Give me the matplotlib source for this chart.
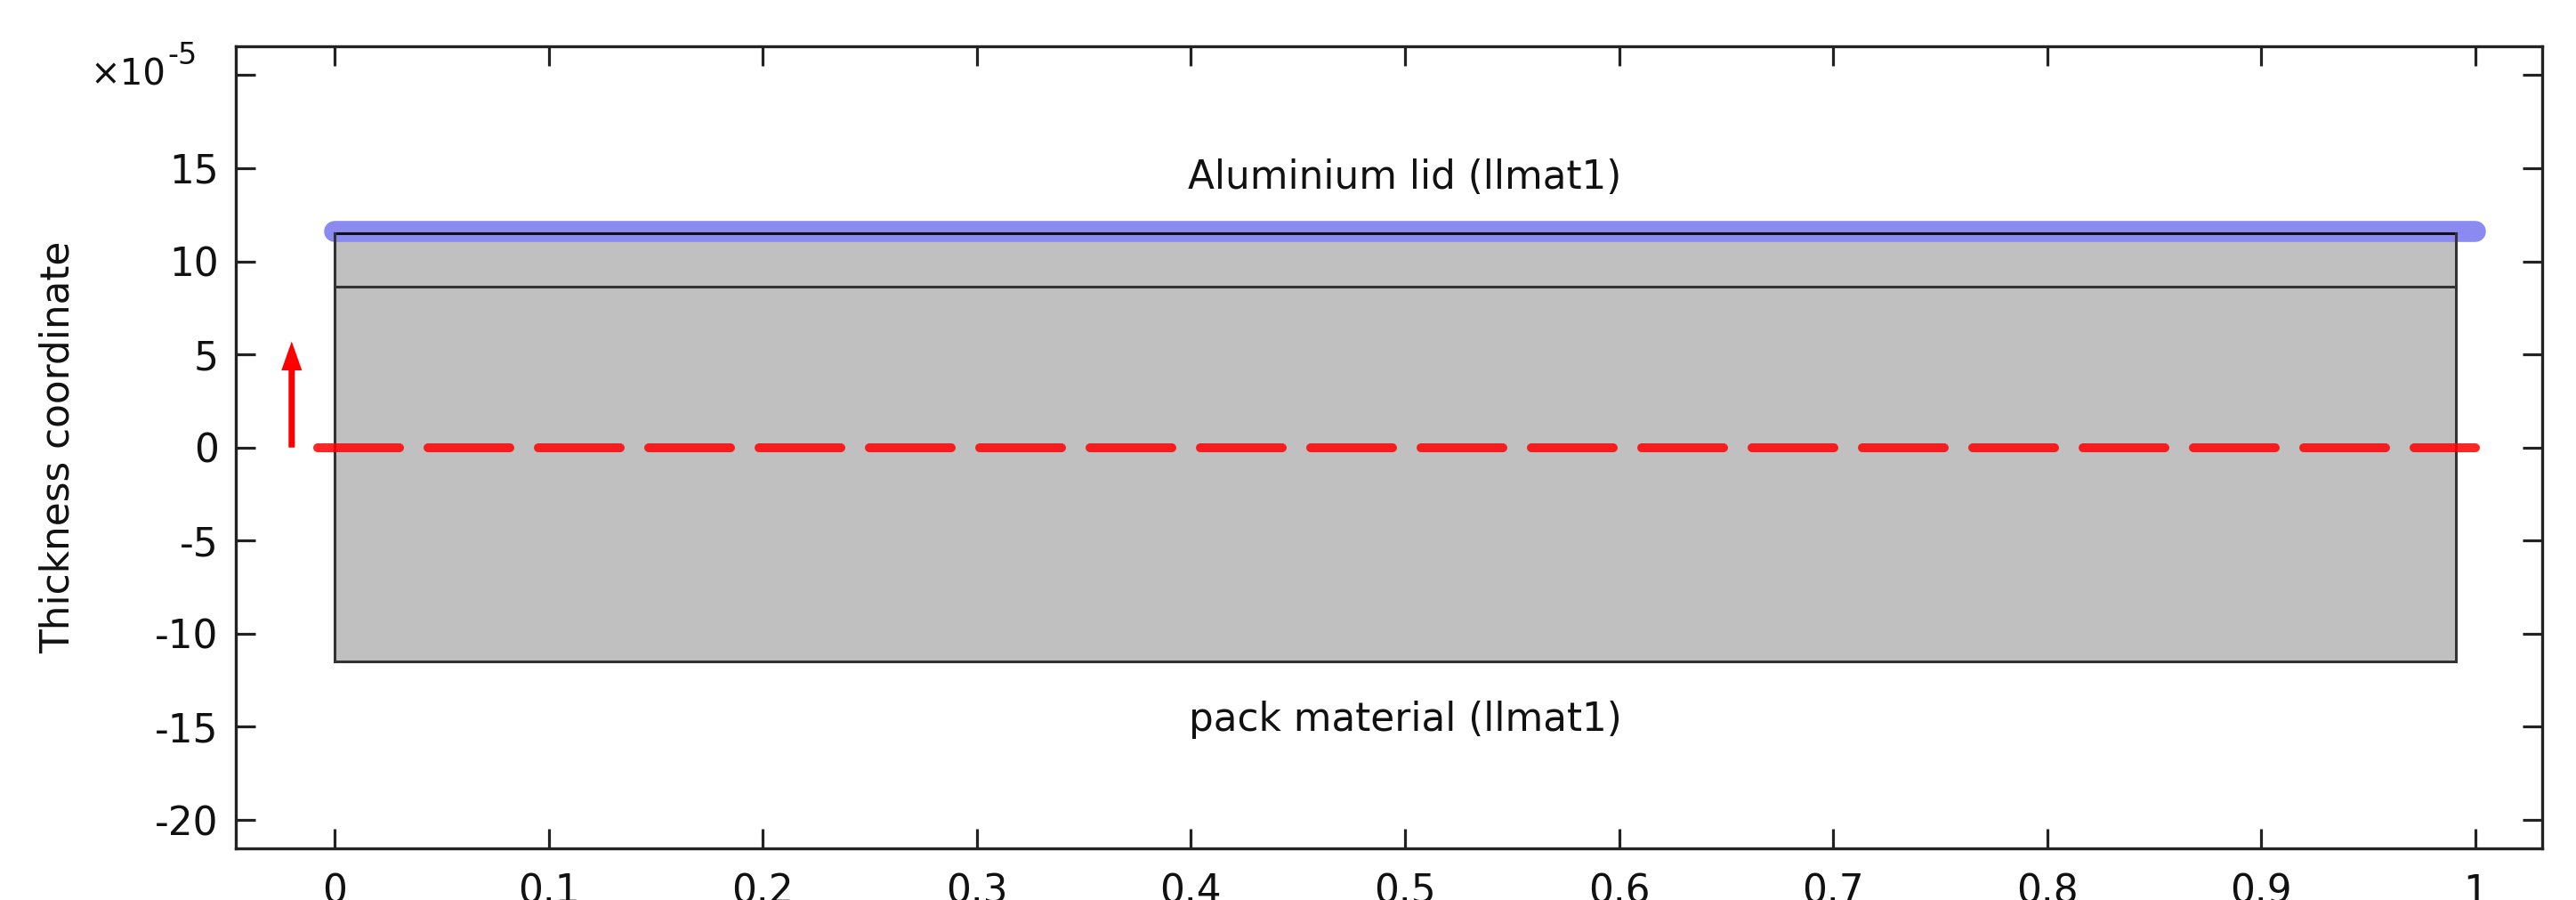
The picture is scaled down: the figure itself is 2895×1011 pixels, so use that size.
import matplotlib
matplotlib.use("Agg")
import matplotlib.pyplot as plt
from matplotlib.ticker import FuncFormatter

plt.rcParams['font.family'] = ['DejaVu Sans']
plt.rcParams['axes.unicode_minus'] = False

# layer geometry (m)
layer_x = [0.0, 0.991]
layer_bottom = -11.5e-5
layer_inner = 8.65e-5
layer_top = 11.5e-5

# highlighted top boundary (blue) and reference line (red dashed)
lid_x = [0.0, 1.0]
lid_y = [11.6e-5, 11.6e-5]
ref_x = [-0.008, 1.0]
ref_y = [0.0, 0.0]

# thickness direction arrow
arrow_x = -0.02
arrow_y0 = 0.0
arrow_y1 = 5.7e-5

top_label = "Aluminium lid (llmat1)"
bottom_label = "pack material (llmat1)"
ylabel = "Thickness coordinate"

xticks = [i / 10 for i in range(11)]
yticks = [v * 1e-5 for v in range(-20, 25, 5)]

fs = 31.5

fig = plt.figure(figsize=(28.95, 10.11), dpi=100)
ax = fig.add_axes([265 / 2895, 1 - 953 / 1011, (2857 - 265) / 2895, (953 - 52) / 1011])

ax.set_xlim(-0.0461, 1.0312)
ax.set_ylim(-21.53e-5, 21.55e-5)

# gray layers
ax.fill_between(layer_x, layer_bottom, layer_top, color='#c0c0c0', lw=0, zorder=1)

# blue lid line
ax.plot(lid_x, lid_y, color='#8a8af0', lw=17, solid_capstyle='round', zorder=2)

# layer edges
ec = '#333333'
elw = 2.2
ax.plot(layer_x, [layer_top, layer_top], color='#111111', lw=elw, zorder=3)
ax.plot(layer_x, [layer_inner, layer_inner], color=ec, lw=elw, zorder=3)
ax.plot(layer_x, [layer_bottom, layer_bottom], color=ec, lw=elw, zorder=3)
ax.plot([layer_x[0], layer_x[0]], [layer_bottom, layer_top], color=ec, lw=elw, zorder=3)
ax.plot([layer_x[1], layer_x[1]], [layer_bottom, layer_top], color=ec, lw=elw, zorder=3)

# red dashed reference line
ax.plot(ref_x, ref_y, color='red', alpha=0.85, lw=7.2, dashes=(9.2, 3.2),
        dash_capstyle='round', zorder=4)

# arrow
ax.arrow(arrow_x, arrow_y0, 0, arrow_y1 - arrow_y0, width=0.0029, head_width=0.0096,
         head_length=1.56e-5, length_includes_head=True, color='red', lw=0, zorder=5)

ax.text(0.5, 14.5e-5, top_label, ha='center', va='center', fontsize=fs, color='#111111')
ax.text(0.5, -14.6e-5, bottom_label, ha='center', va='center', fontsize=fs, color='#111111')

ax.set_xticks(xticks)
ax.set_yticks(yticks)
ax.xaxis.set_major_formatter(FuncFormatter(lambda v, p: '%g' % round(v, 3)))


def yfmt(v, p):
    n = int(round(v / 1e-5))
    if n == 20:
        return ''  # replaced by the exponent label
    return str(n)


ax.yaxis.set_major_formatter(FuncFormatter(yfmt))
ax.tick_params(direction='in', length=16, width=2.3, top=True, right=True,
               labelsize=fs, color='#222222', labelcolor='#111111')
ax.tick_params(axis='x', pad=20)
ax.tick_params(axis='y', pad=14)
for s in ax.spines.values():
    s.set_linewidth(2.4)
    s.set_color('#222222')

ax.set_ylabel(ylabel, fontsize=fs, color='#111111')
ax.yaxis.set_label_coords(-0.0687, 0.5)

# exponent label
fig.text(186 / 2895, 1 - 95 / 1011, '×10', ha='right', va='baseline', fontsize=29, color='#111111')
fig.text(188 / 2895, 1 - 72 / 1011, '-5', ha='left', va='baseline', fontsize=24, color='#111111')

fig.savefig('out.png', dpi=100)
